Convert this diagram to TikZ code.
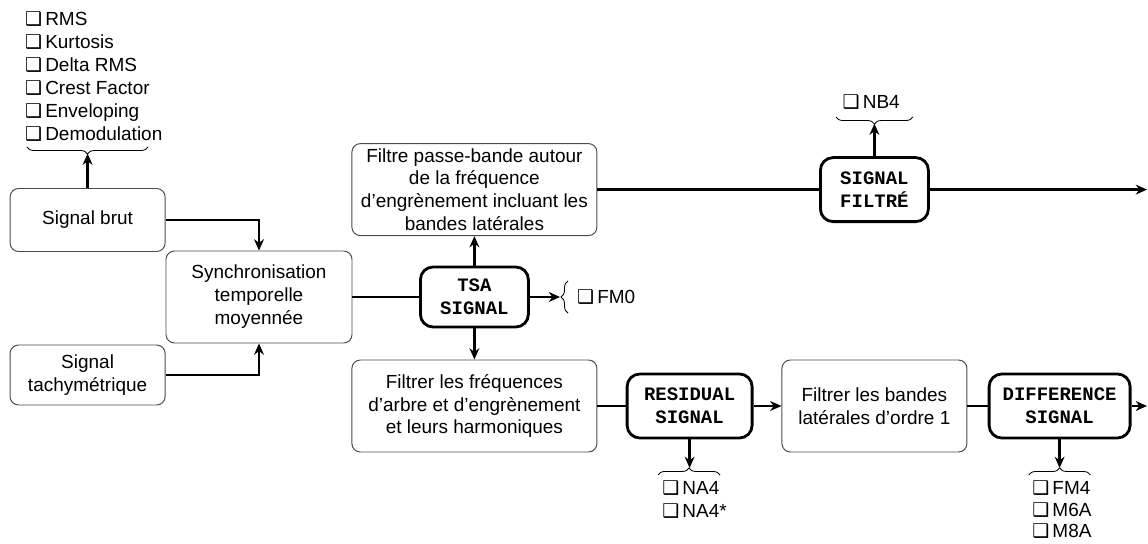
\documentclass[tikz,border=0pt]{standalone}
\usepackage{fontspec}
\setmainfont{Liberation Sans}
\setmonofont{Liberation Mono}
\newfontfamily\symfont{DejaVu Sans}
\usetikzlibrary{arrows.meta,decorations.pathreplacing}
\newcommand{\txtsize}{\fontsize{13.5}{16.3}\selectfont}
\newcommand{\chk}{{\symfont ❑}\,}

\begin{document}
\begin{tikzpicture}[
    box/.style={draw=black!70, line width=0.7pt, rounded corners=6pt, align=center, inner sep=0pt, font=\txtsize},
    sig/.style={draw, line width=2pt, rounded corners=9pt, align=center, inner sep=0pt, font=\txtsize\ttfamily\bfseries, minimum width=2.7cm, minimum height=1.55cm},
    link/.style={line width=1.7pt},
    arr/.style={line width=1.7pt, -{Stealth[length=8pt,width=7pt]}},
    cbrace/.style={decorate, decoration={brace, amplitude=5pt}, line width=0.6pt},
    list/.style={align=left, inner sep=0pt, font=\txtsize}
]
        \useasboundingbox (0,0) rectangle (28.7,13.6);
        % Inputs
        \node[box, minimum width=3.875cm, minimum height=1.575cm] (brut) at (2.19, 8.1) {Signal brut};
        \node[box, minimum width=3.875cm, minimum height=1.5cm] (tachy) at (2.19, 4.225) {Signal\\tachymétrique};
        \node[box, minimum width=4.65cm, minimum height=2.3cm] (sync) at (6.475, 6.175) {Synchronisation\\temporelle\\moyennée};
        % Middle column
        \node[box, minimum width=6.125cm, minimum height=2.3cm] (passe) at (11.86, 8.86) {Filtre passe-bande autour\\de la fréquence\\d’engrènement incluant les\\bandes latérales};
        \node[sig, minimum height=1.5cm] (tsa) at (11.86, 6.175) {TSA\\SIGNAL};
        \node[box, minimum width=6.125cm, minimum height=2.3cm] (freq) at (11.86, 3.45) {Filtrer les fréquences\\d’arbre et d’engrènement\\et leurs harmoniques};
        % Lower row
        \node[sig, minimum width=3.125cm, minimum height=1.6cm] (resid) at (17.24, 3.45) {RESIDUAL\\SIGNAL};
        \node[box, minimum width=4.625cm, minimum height=2.3cm] (bandes) at (21.86, 3.45) {Filtrer les bandes\\latérales d’ordre 1};
        \node[sig, minimum width=3.525cm, minimum height=1.6cm] (diff) at (26.49, 3.45) {DIFFERENCE\\SIGNAL};
        % Upper row
        \node[sig, minimum height=1.6cm] (filt) at (21.86, 8.86) {SIGNAL\\FILTRÉ};
        \coordinate (outA) at (28.675, 8.86);
        \coordinate (outB) at (28.675, 3.45);

        % Indicator lists
        \node[list, anchor=west] (feat) at (0.62, 11.68) {\chk RMS\\\chk Kurtosis\\\chk Delta RMS\\\chk Crest Factor\\\chk Enveloping\\\chk Demodulation};
        \draw[cbrace] (3.7, 9.925) -- (0.675, 9.925);
        \coordinate (feattip) at (2.19, 9.76);
        \node[list] (nb) at (21.78, 11.05) {\chk NB4};
        \draw[cbrace] (22.82, 10.675) -- (20.9, 10.675);
        \coordinate (nbtip) at (21.86, 10.51);
        \draw[cbrace] (14.2, 5.775) -- (14.2, 6.575);
        \coordinate (fmtip0) at (14.0, 6.175);
        \node[list, anchor=west] (fm0) at (14.42, 6.175) {\chk FM0};
        \draw[cbrace] (16.45, 1.725) -- (18.0, 1.725);
        \coordinate (natip) at (17.24, 1.9);
        \node[list, anchor=west] (na) at (16.55, 1.12) {\chk NA4\\\chk NA4*};
        \draw[cbrace] (25.72, 1.725) -- (27.26, 1.725);
        \coordinate (fmtip) at (26.49, 1.9);
        \node[list, anchor=west, font=\fontsize{13.5}{15.4}\selectfont] (fm) at (25.8, 0.86) {\chk FM4\\\chk M6A\\\chk M8A};

        % Connections
        \draw[arr] (brut.north) -- (feattip);
        \draw[arr] (brut.east) -| (sync.north);
        \draw[arr] (tachy.east) -| (sync.south);
        \draw[link] (sync) -- (tsa);
        \draw[arr] (tsa) -- (passe);
        \draw[arr] (tsa) -- (freq);
        \draw[arr] (tsa) -- (fmtip0);
        \draw[link] (passe) -- (filt);
        \draw[arr] (filt) -- (outA);
        \draw[arr] (filt) -- (nbtip);
        \draw[link] (freq) -- (resid);
        \draw[arr] (resid) -- (bandes);
        \draw[link] (bandes) -- (diff);
        \draw[arr] (diff) -- (outB);
        \draw[arr] (resid) -- (natip);
        \draw[arr] (diff) -- (fmtip);
\end{tikzpicture}
\end{document}
